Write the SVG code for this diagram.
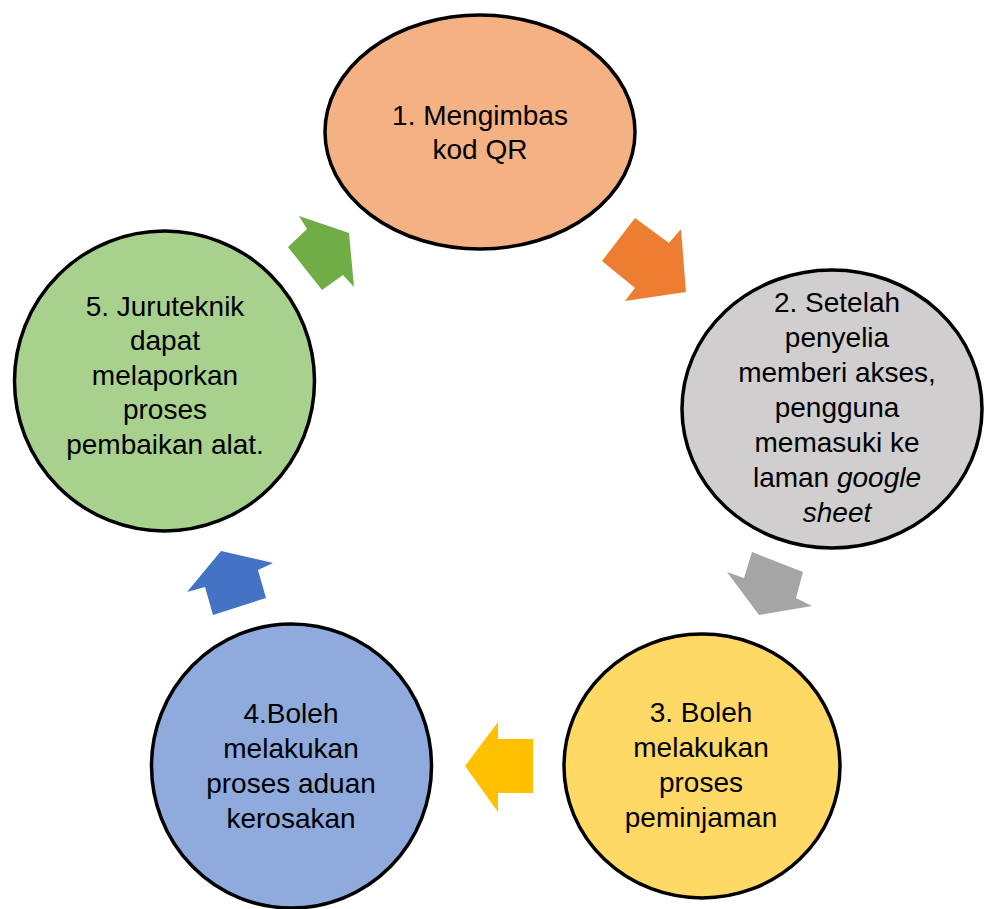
<svg xmlns="http://www.w3.org/2000/svg" width="986" height="909" viewBox="0 0 986 909">
<style>
.node{stroke:#000;stroke-width:3.5}
.t{font-family:"Liberation Sans",Arial,sans-serif;font-size:28px;fill:#000;text-anchor:middle}
.i{font-style:italic}
</style>
<rect width="986" height="909" fill="#fff"/>
<g id="connectors">
<polygon points="602,261 635,218 669,243 681,229 686,292 625,301 635,288" fill="#ED7D31"/>
<polygon points="727,572 744,578 752,552 803,572 796,598 812,606 759,615" fill="#A5A5A5"/>
<polygon points="465,766 498,722 498,739 533,739 533,793 498,793 498,812" fill="#FFC000"/>
<polygon points="187,592 205,587 213,615 266,598 258,570 273,563 221,551" fill="#4472C4"/>
<polygon points="288,247 307,229 299,216 349,233 354,287 343,275 322,290" fill="#70AD47"/>
</g>
<g id="node1">
<ellipse class="node" cx="480" cy="132" rx="155" ry="117" fill="#F4B183"/>
<text class="t" x="480" y="125">1. Mengimbas</text>
<text class="t" x="480" y="159">kod QR</text>
</g>
<g id="node2">
<ellipse class="node" cx="832" cy="409" rx="150" ry="139" fill="#D0CECE"/>
<text class="t" x="837" y="312">2. Setelah</text>
<text class="t" x="837" y="347">penyelia</text>
<text class="t" x="837" y="382">memberi akses,</text>
<text class="t" x="837" y="417">pengguna</text>
<text class="t" x="837" y="452">memasuki ke</text>
<text class="t" x="837" y="487">laman <tspan class="i">google</tspan></text>
<text class="t i" x="837" y="522">sheet</text>
</g>
<g id="node3">
<ellipse class="node" cx="702" cy="766" rx="138" ry="132" fill="#FFD966"/>
<text class="t" x="701" y="722">3. Boleh</text>
<text class="t" x="701" y="757">melakukan</text>
<text class="t" x="701" y="792">proses</text>
<text class="t" x="701" y="827">peminjaman</text>
</g>
<g id="node4">
<ellipse class="node" cx="291.5" cy="766" rx="140" ry="142" fill="#8FAADC"/>
<text class="t" x="291" y="723">4.Boleh</text>
<text class="t" x="291" y="758">melakukan</text>
<text class="t" x="291" y="793">proses aduan</text>
<text class="t" x="291" y="828">kerosakan</text>
</g>
<g id="node5">
<ellipse class="node" cx="164.5" cy="381" rx="150" ry="150" fill="#A9D18E"/>
<text class="t" x="165" y="316">5. Juruteknik</text>
<text class="t" x="165" y="350">dapat</text>
<text class="t" x="165" y="385">melaporkan</text>
<text class="t" x="165" y="419">proses</text>
<text class="t" x="165" y="454">pembaikan alat.</text>
</g>
</svg>
